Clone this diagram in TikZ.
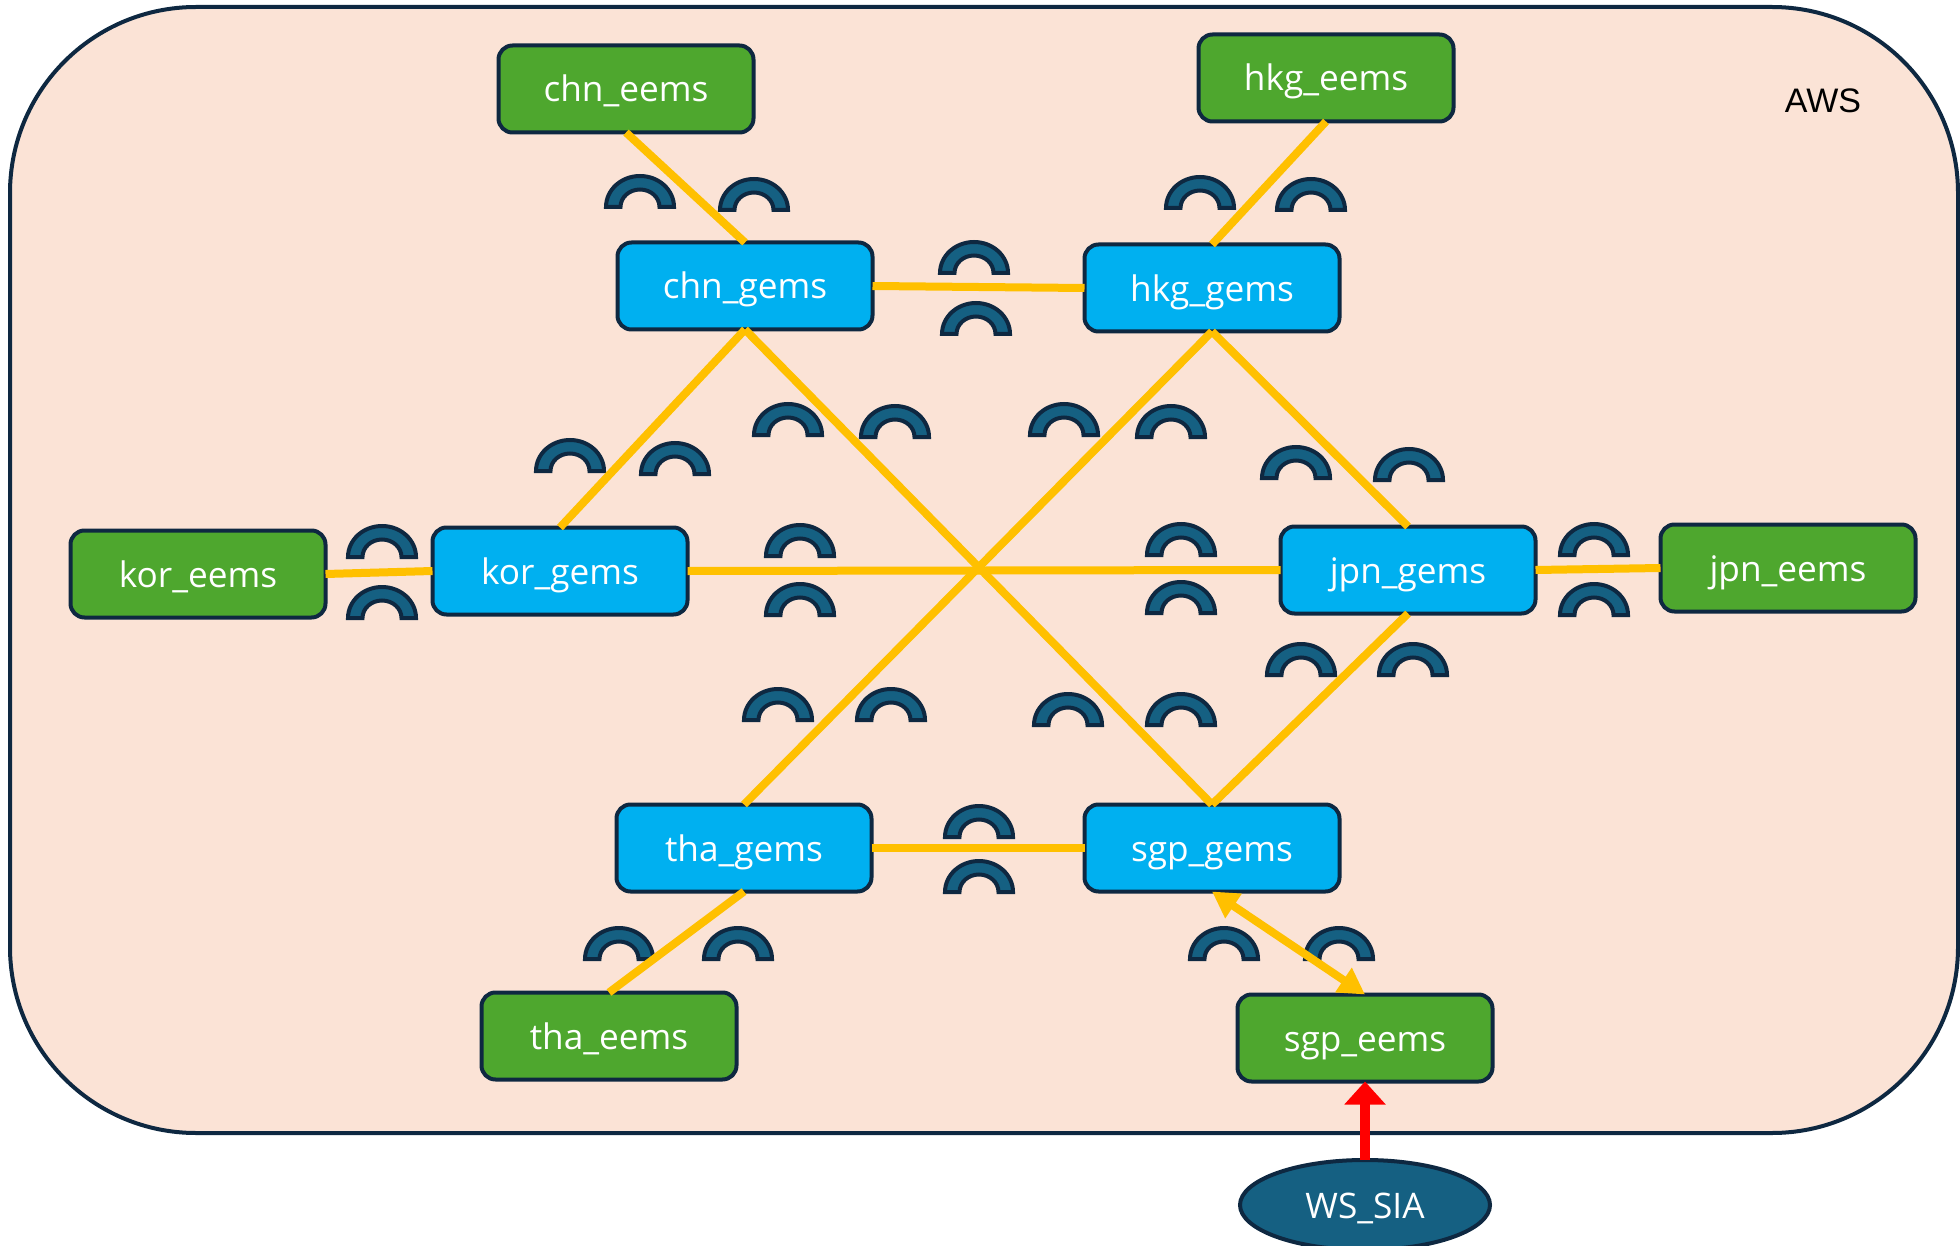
\documentclass[tikz,border=0pt]{standalone}
\usepackage{fontspec}
\setmainfont{Open Sans}
\newfontfamily\awsfont{Liberation Sans}
\usetikzlibrary{arrows.meta,shapes.geometric}
\definecolor{bgpeach}{HTML}{FBE3D6}
\definecolor{gemsblue}{HTML}{00B0F0}
\definecolor{eemsgreen}{HTML}{4EA72E}
\definecolor{darkline}{HTML}{0E2841}
\definecolor{teal}{HTML}{156082}
\definecolor{linkyellow}{HTML}{FFC000}
\tikzset{
  x=0.5pt,y=-0.5pt,
  boxbase/.style={draw=darkline,line width=2pt,rounded corners=7pt,minimum width=127.5pt,minimum height=43.5pt,inner sep=0pt,outer sep=0pt,text=white,font=\fontsize{17.6}{21}\selectfont,text height=17pt,text depth=4pt},
  gems/.style={boxbase,fill=gemsblue},
  eems/.style={boxbase,fill=eemsgreen},
  link/.style={draw=linkyellow,line width=4pt},
  biglink/.style={link,{Triangle[length=13pt,width=14pt]}-{Triangle[length=13pt,width=14pt]}},
  redlink/.style={draw=red,line width=5pt,-{Triangle[length=11.5pt,width=20pt]}},
  gate/.pic={\draw[draw=darkline,fill=teal,line width=2pt]
    (-17pt,0pt) arc[start angle=180,end angle=0,x radius=17pt,y radius=15.5pt]
    -- (9.75pt,0pt) arc[start angle=0,end angle=180,x radius=9.75pt,y radius=8.75pt] -- cycle;},
}
\begin{document}
\begin{tikzpicture}
\useasboundingbox (0,0) rectangle (1960,1246);
\node[draw=darkline,fill=bgpeach,line width=2pt,rounded corners=93pt,inner sep=0pt,outer sep=0pt,anchor=north west,minimum width=974pt,minimum height=563pt] (aws) at (10,7) {};
\node[font=\awsfont\fontsize{17}{20}\selectfont,text=black] (awslabel) at (1823,101) {AWS};
\foreach \px/\py in {640/207,754/210,1200/208,1311/210,974/273,976/334,570/471,675/474,788/435,895/437,1064/435,1171/437,1296/478,1409/480,382/557,382/618,800/556,800/615,1181/555,1181/613,1594/555,1594/615,1301/675,1413/675,778/720,891/720,1068/725,1181/725,979/837,979/892,619/959,738/959,1224/959,1339/959}
  \pic at (\px,\py) {gate};
\node[eems] (chne) at (626,89) {chn\_eems};
\node[eems] (hkge) at (1326,78) {hkg\_eems};
\node[gems] (chng) at (745,286) {chn\_gems};
\node[gems] (hkgg) at (1212,288) {hkg\_gems};
\node[eems] (kore) at (198,574) {kor\_eems};
\node[gems] (korg) at (560,571) {kor\_gems};
\node[gems] (jpng) at (1408,570) {jpn\_gems};
\node[eems] (jpne) at (1788,568) {jpn\_eems};
\node[gems] (thag) at (744,848) {tha\_gems};
\node[gems] (sgpg) at (1212,848) {sgp\_gems};
\node[eems] (thae) at (609,1036) {tha\_eems};
\node[eems] (sgpe) at (1365,1038) {sgp\_eems};
\node[ellipse,draw=darkline,fill=teal,line width=2pt,minimum width=125pt,minimum height=45pt,inner sep=0pt,outer sep=0pt,text=white,font=\fontsize{17.6}{21}\selectfont,text height=17pt,text depth=4pt] (ws) at (1365,1205) {WS\_SIA};
\draw[link] (chne.south) -- (chng.north);
\draw[link] (hkge.south) -- (hkgg.north);
\draw[link] (chng.east) -- (hkgg.west);
\draw[link] (korg.north) -- (chng.south);
\draw[link] (chng.south) -- (sgpg.north);
\draw[link] (hkgg.south) -- (thag.north);
\draw[link] (hkgg.south) -- (jpng.north);
\draw[link] (kore.east) -- (korg.west);
\draw[link] (korg.east) -- (jpng.west);
\draw[link] (jpng.east) -- (jpne.west);
\draw[link] (jpng.south) -- (sgpg.north);
\draw[link] (thag.east) -- (sgpg.west);
\draw[link] (thag.south) -- (thae.north);
\draw[biglink] (sgpg.south) -- (sgpe.north);
\draw[redlink] (ws.north) -- (sgpe.south);
\end{tikzpicture}
\end{document}
